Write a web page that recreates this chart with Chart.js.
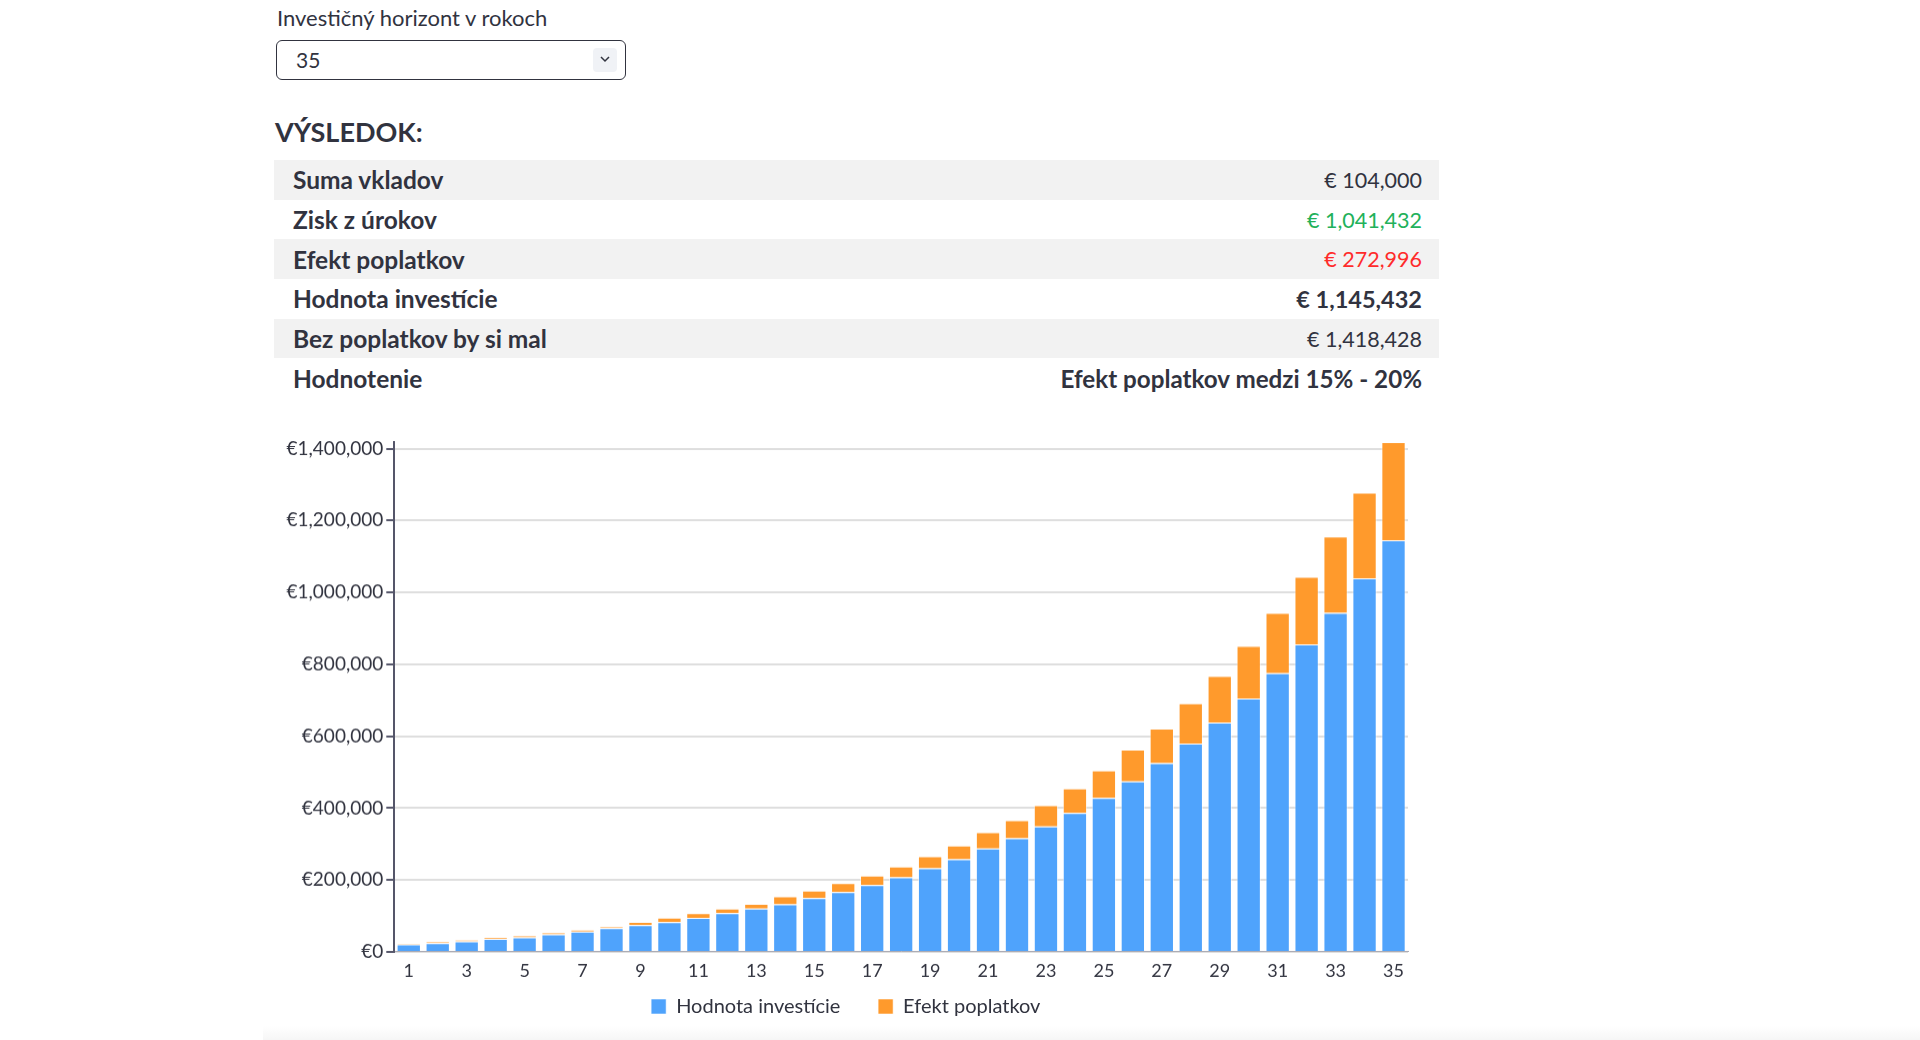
<!DOCTYPE html>
<html lang="sk">
<head>
<meta charset="utf-8">
<title>Výsledok investície</title>
<script src="https://cdn.jsdelivr.net/npm/chart.js@4.4.1/dist/chart.umd.min.js"></script>
<style>
  html, body { margin: 0; padding: 0; background: #fff; }
  body {
    width: 1920px; height: 1040px; position: relative; overflow: hidden;
    font-family: "Source Sans Pro", Lato, "Noto Sans", sans-serif;
    color: #31333F;
  }
  .label { position: absolute; left: 277px; top: 4px; font-size: 22px; }
  .select {
    position: absolute; left: 276px; top: 40px; width: 348px; height: 38px;
    border: 1px solid #31333F; border-radius: 6px; box-sizing: content-box;
  }
  .select .val { position: absolute; left: 19px; top: 6px; font-size: 21px; }
  .select .chev {
    position: absolute; right: 8px; top: 7px; width: 24px; height: 24px;
    background: #f0f2f6; border-radius: 4px;
  }
  .select .chev svg { position: absolute; left: 7px; top: 8px; }
  h2 {
    position: absolute; left: 275px; top: 115px; margin: 0;
    font-size: 27px; font-weight: 700;
  }
  table {
    position: absolute; left: 274px; top: 160px; width: 1165px;
    border-collapse: collapse; font-size: 21.5px;
  }
  td { height: 39.7px; padding: 0 17px 0 19px; }
  tr:nth-child(odd) { background: #f2f2f2; }
  td.k { font-weight: 700; font-size: 24.5px; }
  td.v { text-align: right; }
  .green { color: #21b15a; }
  .red { color: #ff2b2b; }
  .b { font-weight: 700; font-size: 23.5px; }
  .b2 { font-weight: 700; font-size: 24.2px; }
  #wrap { position: absolute; left: 274px; top: 420px; width: 1165px; height: 605.5px; }
  .foot {
    position: absolute; left: 263px; right: 0; top: 1026px; height: 14px;
    background: linear-gradient(#ffffff, #f6f6f6);
  }
</style>
</head>
<body>
<div class="label">Investičný horizont v rokoch</div>
<div class="select">
  <span class="val">35</span>
  <span class="chev"><svg width="10" height="7" viewBox="0 0 10 7"><path d="M1 1 L5 5 L9 1" fill="none" stroke="#31333F" stroke-width="1.5"/></svg></span>
</div>
<h2>VÝSLEDOK:</h2>
<table>
  <tr><td class="k">Suma vkladov</td><td class="v">€ 104,000</td></tr>
  <tr><td class="k">Zisk z úrokov</td><td class="v green">€ 1,041,432</td></tr>
  <tr><td class="k">Efekt poplatkov</td><td class="v red">€ 272,996</td></tr>
  <tr><td class="k">Hodnota investície</td><td class="v b">€ 1,145,432</td></tr>
  <tr><td class="k">Bez poplatkov by si mal</td><td class="v">€ 1,418,428</td></tr>
  <tr><td class="k">Hodnotenie</td><td class="v b2">Efekt poplatkov medzi 15% - 20%</td></tr>
</table>
<div id="wrap"><canvas id="chart"></canvas></div>
<div class="foot"></div>

<script>
// roky investičného horizontu
const years = [1, 2, 3, 4, 5, 6, 7, 8, 9, 10, 11, 12, 13, 14, 15, 16, 17, 18,
  19, 20, 21, 22, 23, 24, 25, 26, 27, 28, 29, 30, 31, 32, 33, 34, 35];

// hodnota investície (modrá) - odčítané z grafu
const hodnota = [20700, 24400, 29000, 36000, 40300, 48700, 56200, 65800, 74000, 82300,
  94200, 108000, 120500, 132400, 149700, 166500, 185800, 207300, 232400, 257500,
  287400, 316100, 348700, 386700, 428500, 474300, 525400, 579200, 637800, 704800,
  775600, 855400, 943000, 1039600, 1145432];

// efekt poplatkov (oranžová), naskladané nad hodnotou
const poplatky = [2800, 4200, 4800, 4500, 4700, 5100, 5200, 4700, 9400, 13000,
  13200, 12400, 12700, 22200, 21000, 24500, 26200, 29900, 33500, 38200,
  45400, 50200, 59500, 68100, 76500, 88700, 96100, 112700, 129500, 146200,
  167400, 188100, 212900, 238200, 272996];

// popisky osi y
const yTicks = [0, 200000, 400000, 600000, 800000, 1000000, 1200000, 1400000];

const totals = hodnota.map((v, i) => v + poplatky[i]);

const textColor = '#31333F';
const ctx = document.getElementById('chart').getContext('2d');

new Chart(ctx, {
  type: 'bar',
  data: {
    labels: years,
    datasets: [
      {
        label: 'Hodnota investície',
        data: hodnota,
        backgroundColor: '#4fa3fc',
        borderColor: 'rgba(255,255,255,0.55)',
        borderWidth: 1,
        categoryPercentage: 1,
        barPercentage: 0.84,
      },
      {
        label: 'Efekt poplatkov',
        data: poplatky,
        backgroundColor: '#ff9a2c',
        borderColor: 'rgba(255,255,255,0.55)',
        borderWidth: 1,
        categoryPercentage: 1,
        barPercentage: 0.84,
      },
    ],
  },
  options: {
    responsive: true,
    maintainAspectRatio: false,
    animation: false,
    layout: { padding: { top: 22, right: 31, left: 9.5, bottom: 0 } },
    plugins: {
      tooltip: { enabled: false },
      legend: {
        position: 'bottom',
        labels: {
          color: textColor,
          font: { family: 'Lato, sans-serif', size: 20 },
          boxWidth: 15,
          boxHeight: 15,
          padding: 7,
          // väčšia medzera medzi položkami legendy
          generateLabels: (chart) =>
            Chart.defaults.plugins.legend.labels.generateLabels(chart).map((l, i) =>
              i === 0 ? Object.assign(l, { text: l.text + '\u00a0\u00a0\u00a0\u00a0\u00a0\u00a0' }) : l),
        },
      },
    },
    scales: {
      x: {
        stacked: true,
        grid: { display: false, drawTicks: false },
        border: { color: '#a9a9b3', width: 1 },
        ticks: {
          color: textColor,
          font: { family: 'Lato, sans-serif', size: 18 },
          padding: 8,
          maxRotation: 0,
          autoSkip: false,
          callback: function (val, i) { return i % 2 === 0 ? years[i] : ''; },
        },
      },
      y: {
        stacked: true,
        min: 0,
        max: Math.max(...totals),
        afterBuildTicks: (scale) => { scale.ticks = yTicks.map((v) => ({ value: v })); },
        grid: {
          color: '#dedede',
          lineWidth: 2,
          tickColor: '#55566a',
          tickLength: 8,
        },
        border: { color: '#55566a', width: 2 },
        ticks: {
          color: textColor,
          padding: 3,
          font: { family: 'Lato, sans-serif', size: 19 },
          callback: (v) => '€' + v.toLocaleString('en-US'),
        },
      },
    },
  },
});
</script>
</body>
</html>
